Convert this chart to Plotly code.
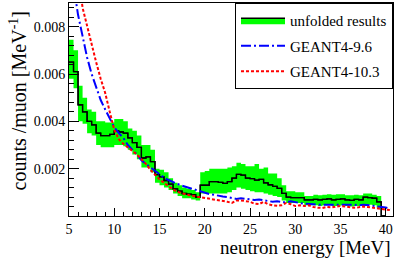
import plotly.graph_objects as go

# ---- data (units of 1e-3 counts/muon/MeV) ----
bin_width = 0.5
bin_low = [5.0 + 0.5 * i for i in range(70)]  # lower edges 5.0 ... 39.5

unfolded = [6.5, 6.1, 4.7, 4.4, 4.0, 3.85, 3.5, 3.4, 3.4, 3.45,
            3.6, 3.55, 3.5, 3.3, 3.1, 2.9, 2.45, 2.5, 2.3, 1.75,
            1.65, 1.5, 1.35, 1.15, 1.05, 0.95, 0.92, 0.9, 0.8, 1.3,
            1.3, 1.45, 1.45, 1.42, 1.38, 1.45, 1.6, 1.76, 1.73, 1.6,
            1.58, 1.52, 1.55, 1.4, 1.32, 1.25, 1.17, 0.96, 0.8, 0.78,
            0.78, 0.78, 0.68, 0.68, 0.7, 0.68, 0.7, 0.72, 0.68, 0.7,
            0.72, 0.68, 0.66, 0.7, 0.68, 0.8, 0.78, 0.75, 0.6, 0.0]
band_low = [5.8, 5.4, 4.0, 3.9, 3.5, 3.4, 3.0, 2.9, 2.9, 2.9,
            3.0, 3.0, 2.95, 2.8, 2.6, 2.4, 2.05, 2.05, 1.85, 1.4,
            1.3, 1.2, 1.1, 0.95, 0.85, 0.75, 0.75, 0.7, 0.65, 0.95,
            0.95, 0.95, 0.95, 0.95, 0.95, 1.0, 1.1, 1.2, 1.15, 1.1,
            1.05, 1.0, 1.0, 0.95, 0.9, 0.85, 0.8, 0.65, 0.55, 0.55,
            0.55, 0.55, 0.45, 0.45, 0.45, 0.42, 0.45, 0.45, 0.42, 0.42,
            0.45, 0.42, 0.4, 0.42, 0.42, 0.5, 0.48, 0.45, 0.35, 0.0]
band_high = [7.45, 7.0, 5.5, 5.0, 4.5, 4.4, 4.0, 4.0, 3.95, 3.95,
             4.1, 4.1, 4.0, 3.7, 3.6, 3.4, 3.0, 3.0, 2.8, 2.0,
             1.95, 1.85, 1.6, 1.4, 1.3, 1.2, 1.15, 1.1, 1.0, 1.85,
             1.9, 2.0, 2.0, 2.0, 2.0, 2.05, 2.1, 2.25, 2.2, 2.1,
             2.1, 2.2, 2.0, 2.05, 1.8, 1.8, 1.6, 1.3, 1.05, 1.05,
             1.0, 1.0, 0.85, 0.85, 0.9, 0.88, 0.9, 0.92, 0.9, 0.92,
             0.92, 0.88, 0.88, 0.9, 0.88, 0.95, 0.95, 0.9, 0.85, 0.0]

model_e = [5.0 + 0.5 * i for i in range(72)]  # 5.0 ... 40.5
geant96 = [11.0, 9.8, 8.5, 7.6, 6.7, 6.0, 5.4, 4.9, 4.5, 4.1,
           3.75, 3.5, 3.3, 3.0, 2.8, 2.6, 2.35, 2.2, 2.05, 1.9,
           1.75, 1.62, 1.52, 1.42, 1.35, 1.28, 1.22, 1.18, 1.12, 1.05,
           0.98, 0.93, 0.9, 0.85, 0.82, 0.8, 0.77, 0.72, 0.75, 0.72,
           0.7, 0.68, 0.7, 0.66, 0.63, 0.6, 0.62, 0.6, 0.57, 0.62,
           0.6, 0.55, 0.52, 0.52, 0.5, 0.47, 0.47, 0.48, 0.5, 0.47,
           0.47, 0.5, 0.47, 0.48, 0.45, 0.48, 0.46, 0.44, 0.42, 0.4,
           0.36, 0.3]
geant103 = [14.0, 12.0, 10.2, 8.8, 8.0, 7.2, 6.5, 5.8, 5.2, 4.4,
            3.65, 3.25, 3.05, 2.9, 2.75, 2.6, 2.4, 2.2, 1.95, 1.73,
            1.55, 1.4, 1.25, 1.12, 1.02, 0.95, 0.9, 0.86, 0.83, 0.8,
            0.78, 0.74, 0.7, 0.68, 0.66, 0.6, 0.55, 0.65, 0.66, 0.62,
            0.6, 0.52, 0.5, 0.6, 0.5, 0.45, 0.43, 0.45, 0.55, 0.5,
            0.42, 0.45, 0.42, 0.45, 0.38, 0.35, 0.34, 0.38, 0.36, 0.4,
            0.42, 0.4, 0.38, 0.35, 0.37, 0.4, 0.38, 0.35, 0.3, 0.28,
            0.27, 0.25]

scale = 1e-3
x_ticks = [5, 10, 15, 20, 25, 30, 35, 40]
y_ticks = [0.002, 0.004, 0.006, 0.008]
y_tick_text = ["0.002", "0.004", "0.006", "0.008"]


def steps(vals):
    xs = bin_low + [bin_low[-1] + bin_width]
    ys = [v * scale for v in vals] + [vals[-1] * scale]
    return xs, ys


GREEN = "#00ff00"
fig = go.Figure()

xs, ylo = steps(band_low)
_, yc = steps(unfolded)
_, yhi = steps(band_high)

fig.add_trace(go.Scatter(x=xs, y=ylo, mode="lines", line=dict(width=0, shape="hv"),
                         showlegend=False, hoverinfo="skip", legendgroup="a"))
fig.add_trace(go.Scatter(x=xs, y=yc, mode="lines", line=dict(width=1.3, color="black", shape="hv"),
                         fill="tonexty", fillcolor=GREEN, name="unfolded results", legendgroup="a"))
fig.add_trace(go.Scatter(x=xs, y=yhi, mode="lines", line=dict(width=0, shape="hv"),
                         fill="tonexty", fillcolor=GREEN, showlegend=False, hoverinfo="skip",
                         legendgroup="a"))
fig.add_trace(go.Scatter(x=xs, y=yc, mode="lines", line=dict(width=1.3, color="black", shape="hv"),
                         showlegend=False, legendgroup="a"))

fig.add_trace(go.Scatter(x=model_e, y=[v * scale for v in geant96], mode="lines",
                         line=dict(color="#0000ff", width=2, dash="10px,3px,2px,3px"),
                         name="GEANT4-9.6", legendgroup="b"))
fig.add_trace(go.Scatter(x=model_e, y=[v * scale for v in geant103], mode="lines",
                         line=dict(color="#ff0000", width=2, dash="3px,2px"),
                         name="GEANT4-10.3", legendgroup="c"))

FONT = "Liberation Serif, Times New Roman, DejaVu Serif, serif"
axis_common = dict(showline=True, linecolor="black", linewidth=1, mirror=True,
                   ticks="inside", tickcolor="black", showgrid=False, zeroline=False,
                   tickfont=dict(family=FONT, size=14, color="black"))

fig.update_xaxes(range=[5, 40.8], tickvals=x_ticks, ticklen=8,
                 minor=dict(tickmode="linear", tick0=5, dtick=1, ticklen=4, ticks="inside",
                            tickcolor="black"),
                 **axis_common)
fig.update_yaxes(range=[0, 0.009], tickvals=y_ticks, ticktext=y_tick_text, ticklen=10,
                 minor=dict(tickmode="linear", tick0=0, dtick=0.0004, ticklen=5, ticks="inside",
                            tickcolor="black"),
                 **axis_common)

fig.update_layout(
    width=399, height=260,
    margin=dict(l=69, r=6, t=3, b=44),
    paper_bgcolor="white", plot_bgcolor="white",
    font=dict(family=FONT, color="black"),
    legend=dict(x=1, y=1, xanchor="right", yanchor="top",
                bordercolor="black", borderwidth=1, bgcolor="white",
                font=dict(family=FONT, size=15, color="black"),
                traceorder="grouped", tracegroupgap=3, itemwidth=44),
    annotations=[
        dict(text="neutron energy [MeV]", xref="paper", yref="paper", x=1.0, y=-0.15,
             xanchor="right", yanchor="middle", showarrow=False,
             font=dict(family=FONT, size=19, color="black")),
        dict(text="counts /muon [MeV<sup>-1</sup>]", xref="paper", yref="paper",
             x=-0.159, y=0.54, xanchor="center", yanchor="middle", textangle=-90,
             showarrow=False, font=dict(family=FONT, size=20, color="black")),
    ],
)

fig.write_html("out.html", config={"displayModeBar": False},
               post_script="document.body.style.margin='0';document.body.style.overflow='hidden';")
